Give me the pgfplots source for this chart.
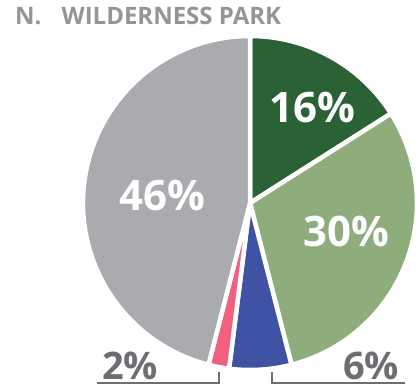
\documentclass[border=0pt]{standalone}
\usepackage{pgfplots}
\pgfplotsset{compat=1.18}
\usepackage{fontspec}
\setmainfont{Open Sans}
\definecolor{dgreen}{HTML}{2A6135}
\definecolor{lgreen}{HTML}{8FAC7D}
\definecolor{pblue}{HTML}{4052A3}
\definecolor{ppink}{HTML}{F2607F}
\definecolor{pgray}{HTML}{AAABAF}
\definecolor{lblgray}{HTML}{6D6E71}
\definecolor{ttlgray}{HTML}{939598}
% slice: cumulative percent before, percent, colour
\newcommand{\slice}[3]{%
  \fill[overlay, #3, draw=white, line width=4.5pt, line join=round]
    (axis cs:0,0) -- (axis cs:{167*cos(90-3.6*#1)},{167*sin(90-3.6*#1)})
    arc[start angle={90-3.6*#1}, end angle={90-3.6*(#1+#2)}, radius=167pt] -- cycle;}
\begin{document}
\begin{tikzpicture}
\begin{axis}[hide axis, x=1pt, y=1pt, xmin=-250, xmax=169, ymin=-185, ymax=203,
  clip=false, scale only axis, width=419pt, height=388pt]
\path (axis cs:-250,-185) rectangle (axis cs:169,203);
\slice{0}{16}{dgreen}
\slice{16}{30}{lgreen}
\slice{46}{6}{pblue}
\slice{52}{2}{ppink}
\slice{54}{46}{pgray}
\addplot[overlay, lblgray, line width=2.5pt, mark=none] coordinates {(-153,-180) (-31,-180) (-31,-169)};
\addplot[overlay, lblgray, line width=2.5pt, mark=none] coordinates {(22,-169) (22,-180) (155,-180)};
\node[overlay, text=white, font=\bfseries\fontsize{42}{42}\selectfont] at (axis cs:62,95) {16\%};
\node[overlay, text=white, font=\bfseries\fontsize{42}{42}\selectfont] at (axis cs:96,-28) {30\%};
\node[overlay, text=white, font=\bfseries\fontsize{42}{42}\selectfont] at (axis cs:-88,8) {46\%};
\node[overlay, text=lblgray, font=\bfseries\fontsize{38}{38}\selectfont] at (axis cs:-120,-163) {2\%};
\node[overlay, text=lblgray, font=\bfseries\fontsize{38}{38}\selectfont] at (axis cs:121,-163) {6\%};
\node[overlay, anchor=base west, inner sep=0pt, text=ttlgray, font=\bfseries\fontsize{24}{24}\selectfont] at (axis cs:-235,178) {N.\hspace{20pt}WILDERNESS PARK};
\end{axis}
\end{tikzpicture}
\end{document}
